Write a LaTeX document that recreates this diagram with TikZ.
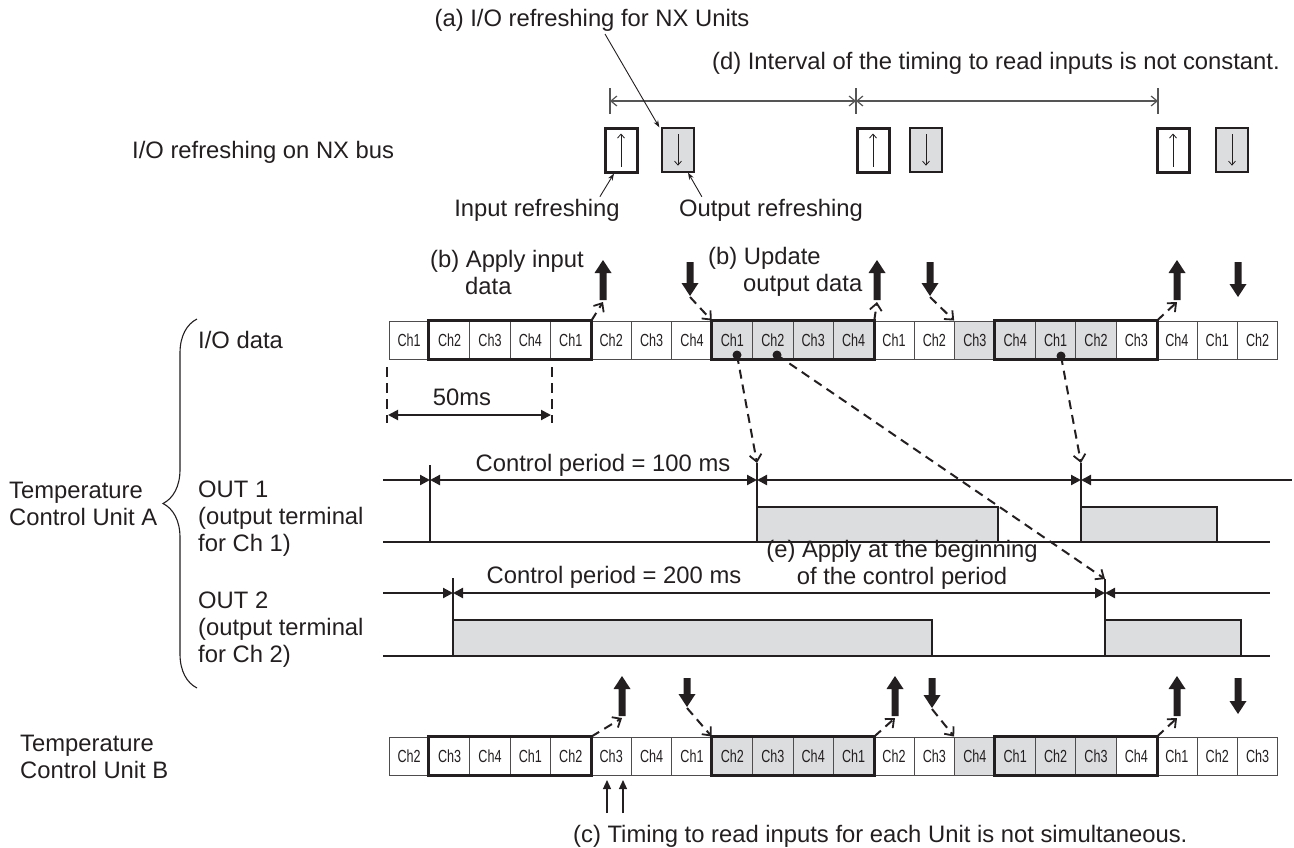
\documentclass[tikz,border=0pt]{standalone}
\usepackage{fontspec}
\setmainfont{Liberation Sans}
\newfontfamily\chfont[FakeStretch=0.72]{Liberation Sans}
\usetikzlibrary{arrows.meta,decorations.pathreplacing,calc}
\definecolor{boxgray}{RGB}{220,221,223}
\definecolor{ink}{RGB}{35,31,32}
\definecolor{dimgray}{RGB}{85,85,85}
\newcommand\blkup[3]{\fill (#1-3.5,#3) -- (#1-3.5,#2+13) -- (#1-8.5,#2+13) -- (#1,#2) -- (#1+8.5,#2+13) -- (#1+3.5,#2+13) -- (#1+3.5,#3) -- cycle;}
\newcommand\blkdn[3]{\fill (#1-3.5,#2) -- (#1-3.5,#3-13) -- (#1-8.5,#3-13) -- (#1,#3) -- (#1+8.5,#3-13) -- (#1+3.5,#3-13) -- (#1+3.5,#2) -- cycle;}
\begin{document}
\begin{tikzpicture}[x=1pt,y=-1pt,font=\fontsize{23.8}{27}\selectfont,color=ink,
  cell/.style={draw=ink!80,line width=0.9pt,minimum width=40.4pt,minimum height=38pt,inner sep=0pt,font=\chfont\fontsize{17.5}{17.5}\selectfont},
  grp/.style={draw=ink,line width=3pt},
  ctl/.style={line width=2.2pt},
  tk/.style={line width=1.1pt},
  tri/.tip={Triangle[length=10pt,width=10pt]},
  dsh/.style={line width=2pt,dash pattern=on 9pt off 6pt,-{Straight Barb[length=7pt,width=12pt,line width=1.8pt]}},
  ptr/.style={line width=0.9pt,-{Stealth[length=7pt,width=5pt]}},
  dimarr/.style={draw=dimgray,line width=1.2pt,{Straight Barb[length=6pt,width=10pt]}-{Straight Barb[length=6pt,width=10pt]}},
  wbox/.style={draw=ink,line width=3pt,fill=white,minimum width=32pt,minimum height=44pt,inner sep=0pt},
  gbox/.style={draw=ink,line width=1.3pt,fill=boxgray,minimum width=32pt,minimum height=44pt,inner sep=0pt},
  inarr/.style={line width=0.8pt,shorten <=7pt,shorten >=7pt,-{Straight Barb[length=4pt,width=7pt]}},
  outbox/.style={draw=ink,line width=2.3pt,fill=boxgray},
  lbl/.style={anchor=west,align=left,inner sep=0pt}]
\useasboundingbox (0,0) rectangle (1294,847);

% ---------- top: NX bus refreshing ----------
\node[lbl] (lnx) at (132,152) {I/O refreshing on NX bus};
\node[inner sep=0pt] (la) at (592,20) {(a) I/O refreshing for NX Units};
\node[lbl] (ld) at (712,63) {(d) Interval of the timing to read inputs is not constant.};

\node[wbox] (w1) at (621,150) {};
\node[gbox] (g1) at (678,150) {};
\node[wbox] (w2) at (873,150) {};
\node[gbox] (g2) at (926,150) {};
\node[wbox] (w3) at (1173,150) {};
\node[gbox] (g3) at (1232,150) {};
\foreach \b in {w1,w2,w3} \draw[inarr] (\b.south) -- (\b.north);
\foreach \b in {g1,g2,g3} \draw[inarr] (\b.north) -- (\b.south);

\coordinate (t1) at (610,101);
\coordinate (t2) at (856,101);
\coordinate (t3) at (1158,101);
\foreach \t in {t1,t2,t3} \draw[dimgray,line width=1.2pt] ($(\t)+(0,-13)$) -- ($(\t)+(0,13)$);
\draw[dimarr] (t1) -- (t2);
\draw[dimarr] (t2) -- (t3);

\coordinate (ap) at (605,34);
\draw[ptr] (ap) -- ([xshift=-2pt]g1.north west);

\node[inner sep=0pt] (lin) at (537,210) {Input refreshing};
\node[inner sep=0pt] (lout) at (771,210) {Output refreshing};
\draw[ptr] ([xshift=-20pt,yshift=2pt]lin.north east) -- ([xshift=-7pt]w1.south);
\draw[ptr] ([xshift=23pt,yshift=2pt]lout.north west) -- ([xshift=10pt]g1.south);

% ---------- labels left ----------
\node[lbl] (lio) at (198,340) {I/O data};
\node[lbl] (lta) at (9,504) {Temperature\\Control Unit A};
\node[lbl] (lo1) at (198,519) {OUT 1\\(output terminal\\for Ch 1)};
\node[lbl] (lo2) at (198,630) {OUT 2\\(output terminal\\for Ch 2)};
\node[lbl] (ltb) at (20,757) {Temperature\\Control Unit B};
\draw[line width=1.1pt,decorate,decoration={brace,amplitude=34pt,aspect=0.5}] (197,688) -- (197,319);

% ---------- rows of channels ----------
\foreach \i in {1,...,8,13,14,19,20,21,22} {
  \pgfmathtruncatemacro\chA{mod(\i-1,4)+1}
  \pgfmathtruncatemacro\chB{mod(\i,4)+1}
  \node[cell,fill=white] (a\i) at ({389+(\i-0.5)*40.4},340) {Ch\chA};
  \node[cell,fill=white] (b\i) at ({389+(\i-0.5)*40.4},756) {Ch\chB};
}
\foreach \i in {9,10,11,12,15,16,17,18} {
  \pgfmathtruncatemacro\chA{mod(\i-1,4)+1}
  \pgfmathtruncatemacro\chB{mod(\i,4)+1}
  \node[cell,fill=boxgray] (a\i) at ({389+(\i-0.5)*40.4},340) {Ch\chA};
  \node[cell,fill=boxgray] (b\i) at ({389+(\i-0.5)*40.4},756) {Ch\chB};
}
\foreach \s/\e in {2/5,9/12,16/19} {
  \draw[grp] (a\s.north west) rectangle (a\e.south east);
  \draw[grp] (b\s.north west) rectangle (b\e.south east);
}

% ---------- block arrows row A ----------
\node[lbl] (lb1) at (430,272) {\fontsize{23.8}{22}\selectfont(b) Apply input\\\hspace*{35pt}data};
\node[lbl] (lb2) at (708,272) {\fontsize{23.8}{22}\selectfont(b) Update\\\hspace*{35pt}output data};
\blkup{603}{260}{300}
\blkdn{690}{262}{296}
\blkup{877}{260}{300}
\blkdn{930}{262}{296}
\blkup{1177}{260}{300}
\blkdn{1238}{262}{297}
\coordinate (ua1) at (603,302);
\coordinate (da1) at (690,297);
\coordinate (ua2) at (877,302);
\coordinate (da2) at (930,297);
\coordinate (ua3) at (1177,302);
\draw[dsh] (a5.north east) -- (ua1);
\draw[dsh] (da1) -- (a9.north west);
\draw[dsh] (a12.north east) -- (ua2);
\draw[dsh] (da2) -- (a15.north west);
\draw[dsh] (a19.north east) -- (ua3);

% ---------- block arrows row B ----------
\blkup{622}{676}{716}
\blkdn{687}{678}{707}
\blkup{895}{676}{716}
\blkdn{932}{678}{708}
\blkup{1177}{676}{716}
\blkdn{1238}{678}{714}
\coordinate (ub1) at (622,718);
\coordinate (db1) at (687,708);
\coordinate (ub2) at (895,718);
\coordinate (db2) at (932,709);
\coordinate (ub3) at (1177,718);
\draw[dsh] (b5.north east) -- (ub1);
\draw[dsh] (db1) -- (b9.north west);
\draw[dsh] (b12.north east) -- (ub2);
\draw[dsh] (db2) -- (b15.north west);
\draw[dsh] (b19.north east) -- (ub3);

% ---------- 50 ms ----------
\draw[line width=2.5pt,dash pattern=on 10pt off 6pt] (387,367) -- (387,423);
\draw[line width=2.5pt,dash pattern=on 10pt off 6pt] (552,367) -- (552,423);
\coordinate (m1) at (388,415);
\coordinate (m2) at (551,415);
\draw[line width=2pt,tri-tri] (m1) -- (m2);
\node (l50) at (462,397) {50ms};

% ---------- OUT 1 ----------
\node (lcp1) at (603,465) {Control period = 100 ms};
\coordinate (p0) at (430,480);
\coordinate (p1) at (757,480);
\coordinate (p2) at (1081,480);
\draw[ctl,-tri] (383,480) -- (p0);
\draw[ctl,tri-tri] (p0) -- (p1);
\draw[ctl,tri-tri] (p1) -- (p2);
\draw[ctl,tri-] (p2) -- (1292,480);
\draw[outbox] (757,507) rectangle (998,542);
\draw[outbox] (1081,507) rectangle (1217,542);
\draw[ctl] (383,542) -- (1270,542);
\draw[tk] (430,465) -- (430,542);
\coordinate (c1top) at (757,463);
\coordinate (c3top) at (1081,463);
\draw[tk] (c1top) -- (757,507);
\draw[tk] (c3top) -- (1081,507);

% ---------- OUT 2 ----------
\node (lcp2) at (614,577) {Control period = 200 ms};
\node[align=center,inner sep=0pt] (le) at (902,565) {\fontsize{23.8}{22}\selectfont(e) Apply at the beginning\\of the control period};
\coordinate (q0) at (453,593);
\coordinate (q1) at (1105,593);
\draw[ctl,-tri] (383,593) -- (q0);
\draw[ctl,tri-tri] (q0) -- (q1);
\draw[ctl,tri-] (q1) -- (1270,593);
\draw[outbox] (453,620) rectangle (932,656);
\draw[outbox] (1105,620) rectangle (1241,656);
\draw[ctl] (383,656) -- (1270,656);
\draw[tk] (453,578) -- (453,656);
\coordinate (c2top) at (1105,579);
\draw[tk] (c2top) -- (1105,620);

% ---------- dots and dashed arrows ----------
\coordinate (d1) at (737,355);
\coordinate (d2) at (777,355);
\coordinate (d3) at (1061,356);
\foreach \d in {d1,d2,d3} \fill (\d) circle (4.5);
\draw[dsh] (d1) -- (c1top);
\draw[dsh] (d2) -- (c2top);
\draw[dsh] (d3) -- (c3top);

% ---------- (c) ----------
\coordinate (r1) at (607,780);
\coordinate (r2) at (623,780);
\draw[line width=1.2pt,-{Triangle[length=9pt,width=8pt]}] (607,813) -- (r1);
\draw[line width=1.2pt,-{Triangle[length=9pt,width=8pt]}] (623,813) -- (r2);
\node[lbl] (lc) at (573,836) {(c) Timing to read inputs for each Unit is not simultaneous.};
\end{tikzpicture}
\end{document}
